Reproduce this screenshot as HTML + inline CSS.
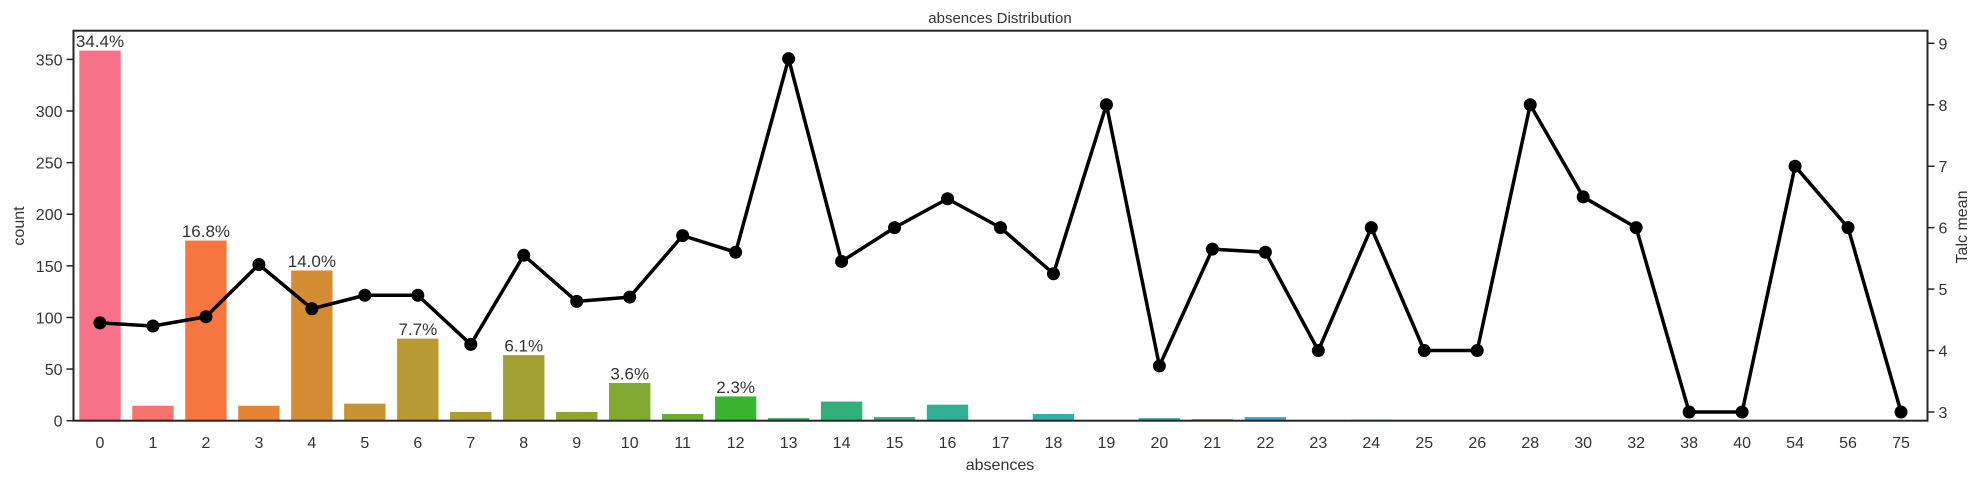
<!DOCTYPE html>
<html><head><meta charset="utf-8"><style>
html,body{margin:0;padding:0;background:#fff;}
svg text{font-family:"Liberation Sans",sans-serif;fill:#333;}
</style></head><body>
<svg id="chart" width="1984" height="484" xmlns="http://www.w3.org/2000/svg">
<text x="1000" y="23" font-size="15" text-anchor="middle" fill="#222">absences Distribution</text>
<text x="1000" y="470" font-size="16" text-anchor="middle">absences</text>
<text transform="translate(24,226) rotate(-90)" font-size="16" text-anchor="middle">count</text>
<text transform="translate(1967,227) rotate(-90)" font-size="16" text-anchor="middle">Talc mean</text>
<g id="bars"></g><g id="labels"></g><g id="line"></g><g id="axes"></g>
</svg>
<script>
const categories=["0","1","2","3","4","5","6","7","8","9","10","11","12","13","14","15","16","17","18","19","20","21","22","23","24","25","26","28","30","32","38","40","54","56","75"];
const counts=[359,15,175,15,146,17,80,9,64,9,37,7,24,3,19,4,16,1,7,1,3,2,4,1,1.5,1,1,1,1,1,1,1,1,1,1];
const talcMean=[4.45,4.4,4.55,5.4,4.68,4.9,4.9,4.1,5.55,4.8,4.87,5.87,5.6,8.75,5.45,6,6.47,6,5.25,8,3.75,5.65,5.6,4,6,4,4,8,6.5,6,3,3,7,6,3];
const leftTicks=[0,50,100,150,200,250,300,350];
const rightTicks=[3,4,5,6,7,8,9];
const pctLabels=["34.4%","","16.8%","","14.0%","","7.7%","","6.1%","","3.6%","","2.3%"];

const L=73.5,R=1927.5,T=30.7,B=420.7;
const n=categories.length, step=(R-L)/n;
const xc=i=>L+step*(i+0.5);
const yL=v=>B-(v/377.8)*(B-T);
const yR=v=>412-(v-3)*(412-43.3)/6;
const NS="http://www.w3.org/2000/svg";
function mk(tag,attrs,parent){const e=document.createElementNS(NS,tag);for(const k in attrs)e.setAttribute(k,attrs[k]);parent.appendChild(e);return e;}

const M=[[3.240969941904521,-1.537383177570093,-0.498610760293],[-0.96924363628087,1.87596750150772,0.041555057407175],[0.055630079696993,-0.20397695888897,1.056971514242878]];
const refU=0.19783000664283,refV=0.46831999493879,kappa=903.2962962,eps=0.0088564516;
function bounds(Lv){const s1=Math.pow(Lv+16,3)/1560896;const s2=s1>eps?s1:Lv/kappa;const r=[];for(const [m1,m2,m3] of M){for(const t of [0,1]){const top1=(284517*m1-94839*m3)*s2;const top2=(838422*m3+769860*m2+731718*m1)*Lv*s2-769860*t*Lv;const bot=(632260*m3-126452*m2)*s2+126452*t;r.push([top1/bot,top2/bot]);}}return r;}
function maxC(Lv,H){const h=H/360*2*Math.PI;let mn=Infinity;for(const [sl,ic] of bounds(Lv)){const len=ic/(Math.sin(h)-sl*Math.cos(h));if(len>=0)mn=Math.min(mn,len);}return mn;}
function husl(H,S,Lv){const C=maxC(Lv,H)/100*S;const h=H/180*Math.PI;const U=C*Math.cos(h),V=C*Math.sin(h);const vu=U/(13*Lv)+refU,vv=V/(13*Lv)+refV;const Y=Lv<=8?Lv/kappa:Math.pow((Lv+16)/116,3);const X=-(9*Y*vu)/((vu-4)*vv-vu*vv);const Z=(9*Y-15*vv*Y-vv*X)/(3*vv);return M.map(r=>{let c=r[0]*X+r[1]*Y+r[2]*Z;c=c<=0.0031308?12.92*c:1.055*Math.pow(c,1/2.4)-0.055;return Math.min(1,Math.max(0,c));});}
function color(i){let h=(i/n+0.01)%1*359;const c=husl(h,0.9*99,0.65*99);return "rgb("+c.map(v=>Math.round(v*255)).join(",")+")";}

const gb=document.getElementById('bars'),gl=document.getElementById('labels'),gn=document.getElementById('line'),ga=document.getElementById('axes');
const bw=step*0.8;
counts.forEach((v,i)=>{
  const r=mk('rect',{x:xc(i)-bw/2,y:yL(v),width:bw,height:B-yL(v),fill:color(i),stroke:"#fff","stroke-width":1},gb);
  
  
});
pctLabels.forEach((t,i)=>{
  if(!t)return;
  const e=mk('text',{x:xc(i),y:yL(counts[i])-3,"font-size":"17","text-anchor":"middle"},gl);
  e.textContent=t;
  
  
});
const pl=mk('polyline',{points:talcMean.map((v,i)=>xc(i)+","+yR(v)).join(" "),fill:"none",stroke:"#000","stroke-width":3.5,"stroke-linejoin":"round"},gn);


talcMean.forEach((v,i)=>{
  const c=mk('circle',{cx:xc(i),cy:yR(v),r:6.5,fill:"#000"},gn);
  
  
});
const fr=mk('rect',{x:L,y:T,width:R-L,height:B-T,fill:"none",stroke:"#262626","stroke-width":2},ga);


leftTicks.forEach(v=>{
  mk('line',{x1:L-7,x2:L,y1:yL(v),y2:yL(v),stroke:"#262626","stroke-width":1.5},ga);
  const t=mk('text',{x:L-11,y:yL(v)+6,"font-size":"16","text-anchor":"end"},ga);
  t.textContent=v;
  
  
});
rightTicks.forEach(v=>{
  mk('line',{x1:R,x2:R+7,y1:yR(v),y2:yR(v),stroke:"#262626","stroke-width":1.5},ga);
  const t=mk('text',{x:R+11,y:yR(v)+6,"font-size":"16","text-anchor":"start"},ga);
  t.textContent=v;
  
  
});
categories.forEach((c,i)=>{
  const t=mk('text',{x:xc(i),y:448,"font-size":"16","text-anchor":"middle"},ga);
  t.textContent=c;
  
  
});
</script>
</body></html>
